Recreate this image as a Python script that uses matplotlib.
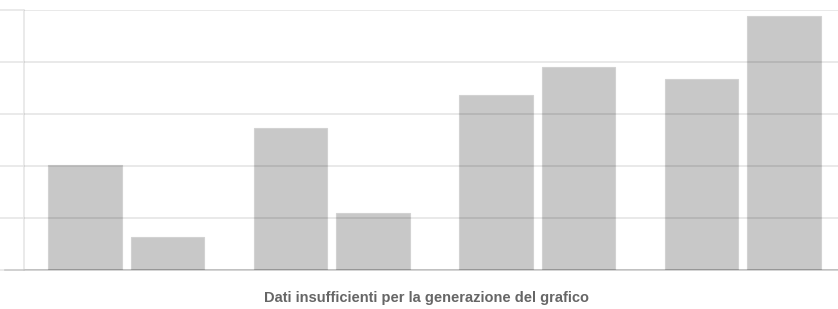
import numpy as np
import matplotlib
matplotlib.use('Agg')
import matplotlib.pyplot as plt

plt.rcParams['font.family'] = ['Liberation Sans', 'DejaVu Sans']

categories = ['A', 'B', 'C', 'D']
serie_1 = [2.02, 2.73, 3.37, 3.67]
serie_2 = [0.64, 1.10, 3.90, 4.88]
yticks = [0, 1, 2, 3, 4, 5]

W, H = 838, 309
fig = plt.figure(figsize=(W / 100, H / 100), dpi=100)
# plot area: left axis at x=23.5px, extends past right edge (clipped)
ax = fig.add_axes([23.5 / W, 1 - 270 / H, 822 / W, 260 / H])

x = np.arange(len(categories))
bw = 0.358
ax.bar(x - 0.2, serie_1, bw, color='#c8c8c8', edgecolor='#d2d2d2', linewidth=0.8, zorder=1)
ax.bar(x + 0.2, serie_2, bw, color='#c8c8c8', edgecolor='#d2d2d2', linewidth=0.8, zorder=1)

ax.set_xlim(-0.5, len(categories) - 0.5)
ax.set_ylim(0, 5)
ax.set_yticks(yticks)
ax.set_yticklabels([])
ax.set_xticks([])
ax.grid(axis='y', color='black', alpha=0.1, linewidth=1.2, zorder=3)
ax.set_axisbelow(False)
ax.tick_params(axis='y', length=18, width=1.2, color='#e6e6e6', direction='out')

for s in ['top', 'right']:
    ax.spines[s].set_visible(False)
ax.spines['left'].set_color('#e6e6e6')
ax.spines['left'].set_linewidth(1.2)
ax.spines['bottom'].set_color('black')
ax.spines['bottom'].set_alpha(0.2)
ax.spines['bottom'].set_linewidth(1.2)
ax.spines['bottom'].set_zorder(4)

# bottom axis line also extends left like the ticks
fig.add_artist(plt.Line2D([5 / W, 23.5 / W], [1 - 270 / H] * 2, color='#cccccc', linewidth=1.2))

fig.text(426.5 / W, 1 - 298 / H, 'Dati insufficienti per la generazione del grafico',
         ha='center', va='center', fontsize=10.5, fontweight='bold', color='#666666')

fig.savefig('out.png', dpi=100)
